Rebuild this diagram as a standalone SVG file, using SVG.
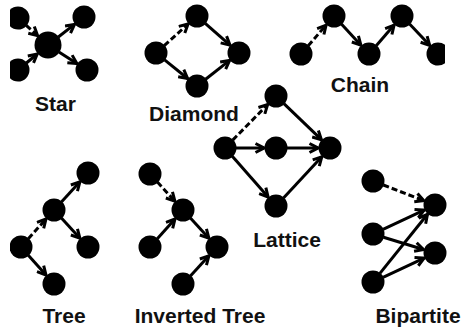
<svg xmlns="http://www.w3.org/2000/svg" width="461" height="331" viewBox="0 0 461 331">
<style>
.n{fill:#000}
.e{stroke:#000;stroke-width:3;fill:none;marker-end:url(#ah)}
.d{stroke-dasharray:6 3}
.t{font-family:"Liberation Sans",Arial,sans-serif;font-weight:bold;font-size:21px;fill:#111;text-anchor:middle}
</style>
<defs>
<marker id="ah" markerUnits="userSpaceOnUse" viewBox="0 0 12 12" refX="10" refY="6" markerWidth="12" markerHeight="12" orient="auto">
<path d="M1.5,1.5 L10,6 L1.5,10.5" fill="none" stroke="#000" stroke-width="3"/>
</marker>
<clipPath id="cl"><rect x="10" y="0" width="451" height="331"/></clipPath>
<clipPath id="cr"><rect x="0" y="0" width="445" height="331"/></clipPath>
</defs>
<rect width="461" height="331" fill="#fff"/>
<g id="connectors">
<line class="e d" x1="26.2" y1="25.3" x2="37.6" y2="35.6"/>
<line class="e" x1="26.4" y1="63" x2="37.2" y2="54"/>
<line class="e" x1="58.3" y1="37" x2="74.5" y2="24.4"/>
<line class="e" x1="58.9" y1="52" x2="76.9" y2="63.5"/>
<line class="e d" x1="164.2" y1="45.6" x2="188.1" y2="24"/>
<line class="e" x1="205.2" y1="23.3" x2="230" y2="45.1"/>
<line class="e" x1="164.6" y1="59.9" x2="187.6" y2="78.5"/>
<line class="e" x1="205.6" y1="79.2" x2="229.6" y2="60.4"/>
<line class="e d" x1="308.2" y1="45.7" x2="326.1" y2="25.1"/>
<line class="e" x1="341.4" y1="24.1" x2="360.9" y2="45.2"/>
<line class="e" x1="376.2" y1="45.7" x2="394.1" y2="25.1"/>
<line class="e" x1="409.6" y1="24" x2="429.7" y2="45.3"/>
<line class="e d" x1="232.7" y1="140.1" x2="267.6" y2="104.6"/>
<line class="e" x1="236" y1="148" x2="264" y2="148"/>
<line class="e" x1="232.3" y1="156.3" x2="268.1" y2="197"/>
<line class="e" x1="283.9" y1="103.6" x2="321.4" y2="139.7"/>
<line class="e" x1="287" y1="148" x2="318" y2="148"/>
<line class="e" x1="283.5" y1="197.9" x2="321.8" y2="156.8"/>
<line class="e d" x1="28.3" y1="238.8" x2="46" y2="219"/>
<line class="e" x1="61.4" y1="201.9" x2="79.9" y2="181.8"/>
<line class="e" x1="61.4" y1="218.1" x2="79.9" y2="238.2"/>
<line class="e" x1="28.3" y1="255.2" x2="46" y2="275"/>
<line class="e d" x1="157.4" y1="182.1" x2="174.9" y2="201.2"/>
<line class="e" x1="157.3" y1="238.8" x2="175" y2="219"/>
<line class="e" x1="190.4" y1="218.1" x2="208.9" y2="238.2"/>
<line class="e" x1="190.4" y1="275.9" x2="208.9" y2="255.8"/>
<line class="e d" x1="383.3" y1="185" x2="423.8" y2="200.7"/>
<line class="e" x1="383" y1="229.3" x2="424.1" y2="210.1"/>
<line class="e" x1="383.5" y1="237.2" x2="423.5" y2="249.5"/>
<line class="e" x1="379.9" y1="273.4" x2="427.5" y2="214.3"/>
<line class="e" x1="383" y1="277.3" x2="424.1" y2="258.1"/>
</g>
<g id="star">
<circle class="n" cx="18" cy="18" r="11.5" clip-path="url(#cl)"/>
<circle class="n" cx="18" cy="70" r="11.5" clip-path="url(#cl)"/>
<circle class="n" cx="48" cy="45" r="13.5"/>
<circle class="n" cx="84" cy="17" r="11.5"/>
<circle class="n" cx="87" cy="70" r="11.5"/>
<text class="t" x="55.5" y="111">Star</text>
</g>
<g id="diamond">
<circle class="n" cx="156" cy="53" r="11.5"/>
<circle class="n" cx="197" cy="16" r="11.5"/>
<circle class="n" cx="239" cy="53" r="11.5"/>
<circle class="n" cx="197" cy="86" r="11.5"/>
<text class="t" x="194" y="121">Diamond</text>
</g>
<g id="chain">
<circle class="n" cx="301" cy="54" r="11.5"/>
<circle class="n" cx="334" cy="16" r="11.5"/>
<circle class="n" cx="369" cy="54" r="11.5"/>
<circle class="n" cx="402" cy="16" r="11.5"/>
<circle class="n" cx="438" cy="54" r="11.5" clip-path="url(#cr)"/>
<text class="t" x="360" y="92">Chain</text>
</g>
<g id="lattice">
<circle class="n" cx="225" cy="148" r="11.5"/>
<circle class="n" cx="276" cy="96" r="11.5"/>
<circle class="n" cx="276" cy="148" r="11.5"/>
<circle class="n" cx="330" cy="148" r="11.5"/>
<circle class="n" cx="276" cy="206" r="11.5"/>
<text class="t" x="287" y="247">Lattice</text>
</g>
<g id="tree">
<circle class="n" cx="88" cy="173" r="11.5"/>
<circle class="n" cx="54" cy="210" r="11.5"/>
<circle class="n" cx="88" cy="247" r="11.5"/>
<circle class="n" cx="21" cy="247" r="11.5" clip-path="url(#cl)"/>
<circle class="n" cx="54" cy="284" r="11.5"/>
<text class="t" x="64" y="323">Tree</text>
</g>
<g id="inverted-tree">
<circle class="n" cx="150" cy="174" r="11.5"/>
<circle class="n" cx="183" cy="210" r="11.5"/>
<circle class="n" cx="150" cy="247" r="11.5"/>
<circle class="n" cx="217" cy="247" r="11.5"/>
<circle class="n" cx="183" cy="284" r="11.5"/>
<text class="t" x="200" y="323">Inverted Tree</text>
</g>
<g id="bipartite">
<circle class="n" cx="373" cy="181" r="11.5"/>
<circle class="n" cx="435" cy="205" r="11.5"/>
<circle class="n" cx="373" cy="234" r="11.5"/>
<circle class="n" cx="435" cy="253" r="11.5"/>
<circle class="n" cx="373" cy="282" r="11.5"/>
<text class="t" x="418" y="323">Bipartite</text>
</g>
</svg>
